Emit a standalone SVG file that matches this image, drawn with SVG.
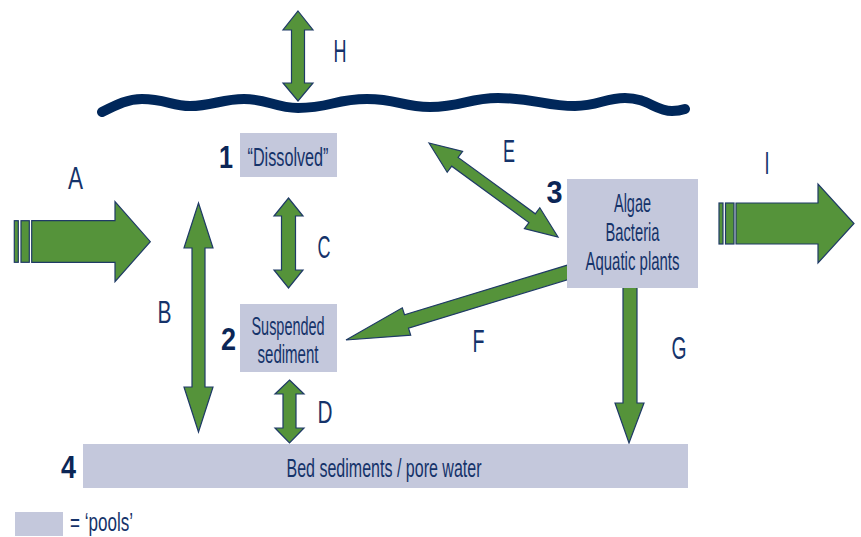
<svg xmlns="http://www.w3.org/2000/svg" width="861" height="537" viewBox="0 0 861 537">
<style>
.arrow{fill:#55933a;stroke:#1f3a66;stroke-width:1.2;stroke-linejoin:miter}
.box{fill:#c4c8dc}
.t{font-family:"Liberation Sans Narrow","Liberation Sans",Arial,sans-serif;fill:#15336a;font-size:25px;text-anchor:middle}
.lbl{font-family:"Liberation Sans Narrow","Liberation Sans",Arial,sans-serif;fill:#15336a;font-size:32px;text-anchor:middle}
.num{font-family:"Liberation Sans Narrow","Liberation Sans",Arial,sans-serif;fill:#0b2656;font-size:32px;font-weight:bold;text-anchor:middle}
.wave{fill:none;stroke:#00275a;stroke-width:10;stroke-linecap:round;stroke-linejoin:round}
</style>
<rect width="861" height="537" fill="#ffffff"/>
<g id="surface">
<path class="wave" d="M102,112 C118,104 128,99 142,99 C165,99 172,106 190,106 C212,106 222,99 244,99 C268,99 275,108 298,108 C330,108 335,99 367,99 C398,99 402,107 430,107 C462,107 468,98 498,98 C535,98 545,106 575,106 C598,106 605,98 625,98 C648,98 655,111 672,111 C678,111 682,110 685,109"/>
</g>
<g id="connectors">
<!-- H -->
<polygon class="arrow" points="298,11 313,30 304.5,30 304.5,83 313,83 298,101 283,83 291.5,83 291.5,30 283,30"/>
<!-- A -->
<rect class="arrow" x="14.3" y="220.7" width="4" height="41.6"/>
<rect class="arrow" x="21" y="220.7" width="8.3" height="41.6"/>
<polygon class="arrow" points="31.7,220.7 115,220.7 115,201.7 150.3,241.7 115,281.7 115,262.3 31.7,262.3"/>
<!-- I -->
<rect class="arrow" x="719" y="203" width="4" height="41"/>
<rect class="arrow" x="725.5" y="203" width="8.5" height="41"/>
<polygon class="arrow" points="736,203 818,203 818,184 854,223.5 818,263 818,244 736,244"/>
<!-- B -->
<polygon class="arrow" points="198.5,203 213,248 205,248 205,387 213,387 198.5,432 184,387 192,387 192,248 184,248"/>
<!-- C -->
<polygon class="arrow" points="288.5,198 303,216 295.5,216 295.5,270 303,270 288.5,288 274,270 281.5,270 281.5,216 274,216"/>
<!-- D -->
<polygon class="arrow" points="289.5,380 304,394 296,394 296,428 304,428 289.5,443 275,428 283,428 283,394 275,394"/>
<!-- E -->
<polygon class="arrow" points="429,143 462.6,151.3 458.1,157.4 535.3,213.8 539.8,207.7 558,237 524.4,228.7 528.9,222.6 451.7,166.2 447.2,172.3"/>
<!-- F -->
<polygon class="arrow" points="346,340 402.3,307.8 404.5,314.8 569,264.6 569,279.2 408.5,328.2 410.7,335.2"/>
<!-- G -->
<polygon class="arrow" points="623,284 637,284 637,403 644,403 629,443 615,403 623,403"/>
</g>
<g id="node1">
<rect class="box" x="240" y="133" width="97" height="44"/>
<text class="num" x="226" y="168" textLength="14" lengthAdjust="spacingAndGlyphs">1</text>
<text class="t" x="288" y="166" textLength="81" lengthAdjust="spacingAndGlyphs">“Dissolved”</text>
</g>
<g id="node2">
<rect class="box" x="240" y="304" width="97" height="68"/>
<text class="num" x="228.5" y="350" textLength="15" lengthAdjust="spacingAndGlyphs">2</text>
<text class="t" x="288" y="335" textLength="73" lengthAdjust="spacingAndGlyphs">Suspended</text>
<text class="t" x="288" y="363" textLength="61" lengthAdjust="spacingAndGlyphs">sediment</text>
</g>
<g id="node3">
<rect class="box" x="567" y="179" width="131" height="109"/>
<text class="num" x="554.5" y="203" textLength="16" lengthAdjust="spacingAndGlyphs">3</text>
<text class="t" x="632.5" y="212" textLength="37" lengthAdjust="spacingAndGlyphs">Algae</text>
<text class="t" x="632.5" y="241" textLength="54" lengthAdjust="spacingAndGlyphs">Bacteria</text>
<text class="t" x="632.5" y="270" textLength="94" lengthAdjust="spacingAndGlyphs">Aquatic plants</text>
</g>
<g id="node4">
<rect class="box" x="83" y="444" width="605" height="44"/>
<text class="num" x="68.5" y="478" textLength="15" lengthAdjust="spacingAndGlyphs">4</text>
<text class="t" x="384" y="477" textLength="195" lengthAdjust="spacingAndGlyphs">Bed sediments / pore water</text>
</g>
<g id="labels">
<text class="lbl" x="340" y="62" textLength="13" lengthAdjust="spacingAndGlyphs">H</text>
<text class="lbl" x="75.5" y="189" textLength="15" lengthAdjust="spacingAndGlyphs">A</text>
<text class="lbl" x="509" y="162" textLength="12" lengthAdjust="spacingAndGlyphs">E</text>
<text class="lbl" x="767" y="174" textLength="5" lengthAdjust="spacingAndGlyphs">I</text>
<text class="lbl" x="324" y="258" textLength="13" lengthAdjust="spacingAndGlyphs">C</text>
<text class="lbl" x="164.5" y="323" textLength="14" lengthAdjust="spacingAndGlyphs">B</text>
<text class="lbl" x="478.5" y="352" textLength="12" lengthAdjust="spacingAndGlyphs">F</text>
<text class="lbl" x="679" y="359" textLength="15" lengthAdjust="spacingAndGlyphs">G</text>
<text class="lbl" x="325" y="423" textLength="15" lengthAdjust="spacingAndGlyphs">D</text>
</g>
<g id="legend">
<rect class="box" x="15" y="512" width="48" height="24"/>
<text class="t" x="70" y="531" style="text-anchor:start" textLength="63" lengthAdjust="spacingAndGlyphs">= ‘pools’</text>
</g>
</svg>
